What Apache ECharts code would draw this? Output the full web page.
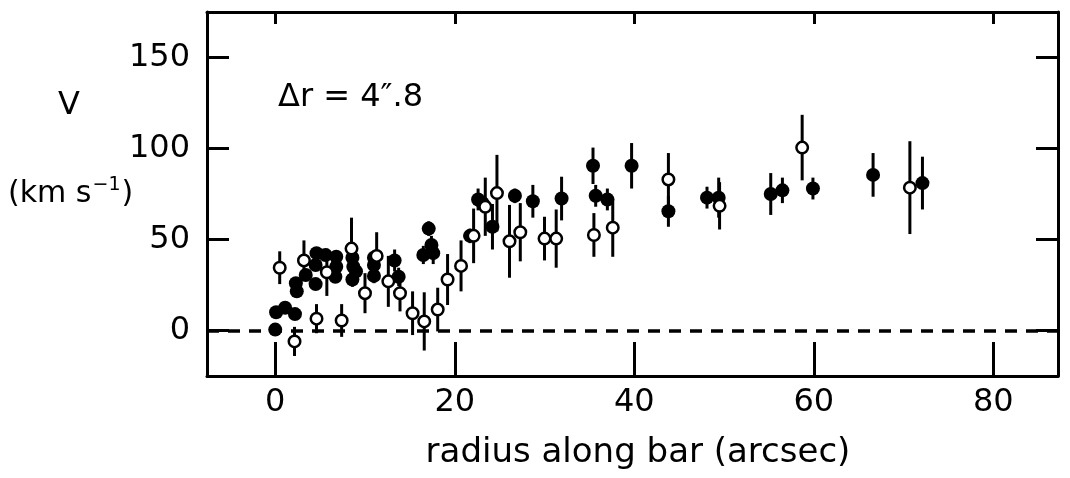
<!DOCTYPE html>
<html>
<head>
<meta charset="utf-8">
<script src="https://cdn.jsdelivr.net/npm/echarts@6/dist/echarts.min.js"></script>
<style>
  html, body { margin: 0; padding: 0; background: #fff; }
  #chart { width: 1070px; height: 478px; }
</style>
</head>
<body>
<div id="chart"></div>
<script>
// ---- data: [radius (arcsec), V (km/s), error (km/s)] ----
const filledPoints = [
  [0.0, 0.5, 0], [0.1, 10, 0], [1.1, 12.5, 0], [2.2, 9, 0],
  [2.3, 26, 3], [2.4, 21.5, 3], [3.4, 30.5, 3], [4.5, 25.5, 3],
  [4.5, 36, 3], [4.6, 42.5, 3], [5.6, 41.5, 3], [6.8, 40.5, 3],
  [6.8, 35, 3], [6.7, 29.5, 3], [8.6, 40, 4], [8.7, 35, 4],
  [9.0, 32.5, 4], [8.6, 28, 4], [11.0, 40, 4], [11.0, 36, 4],
  [11.0, 30, 4], [13.3, 38.5, 6], [13.75, 29.5, 5], [16.5, 41.5, 5],
  [17.1, 56, 4], [17.4, 47, 5], [17.6, 42.5, 6], [21.7, 52, 4],
  [22.6, 72, 6], [23.1, 70, 4], [24.2, 57, 12.5], [26.7, 74, 4],
  [28.7, 71, 9], [31.9, 72.5, 12], [35.4, 90.5, 10], [35.7, 74, 6],
  [37.0, 72, 6], [39.7, 90.5, 12.5], [43.8, 65.5, 8.5], [48.1, 73, 6],
  [49.4, 73, 11], [55.2, 75, 11.5], [56.5, 77, 7], [59.9, 78, 6],
  [66.6, 85.5, 12], [72.1, 81, 14.5]
];
const openPoints = [
  [0.5, 34.5, 9], [2.15, -6, 8], [3.2, 38.5, 11], [4.6, 6.5, 8],
  [5.75, 32, 13], [7.4, 5.5, 9], [8.5, 45, 17], [10.0, 20.5, 11],
  [11.3, 41, 13], [12.6, 27, 14], [13.9, 20.5, 10], [15.3, 9.5, 12],
  [16.6, 5, 16], [18.1, 11.5, 12], [19.2, 28, 14], [20.7, 35.5, 14],
  [22.1, 52, 15], [23.4, 68, 16], [24.7, 75.5, 21], [26.1, 49, 20],
  [27.3, 54, 16], [30.0, 50.5, 12], [31.3, 50.5, 16], [35.5, 52.5, 12],
  [37.6, 56.5, 16], [43.8, 83, 14.5], [49.5, 68.5, 13], [58.7, 100.5, 18],
  [70.7, 78.5, 25.5]
];
const xTicks = [0, 20, 40, 60, 80];
const yTicks = [0, 50, 100, 150];
const xRange = [-7.6, 87.2];
const yRange = [-25, 175];
const xTitle = 'radius along bar (arcsec)';
const annotation = 'Δr = 4\u2033.8';

const FONT = 'DejaVu Sans';
const lineW = 3;

const chart = echarts.init(document.getElementById('chart'));

function errRender(params, api) {
  const x = api.value(0), y = api.value(1), e = api.value(2);
  if (!e) return null;
  const p1 = api.coord([x, y - e]);
  const p2 = api.coord([x, y + e]);
  return {
    type: 'line',
    shape: { x1: p1[0], y1: p1[1], x2: p2[0], y2: p2[1] },
    style: { stroke: '#000', lineWidth: 3 }
  };
}

const axisCommon = {
  type: 'value',
  splitLine: { show: false },
  axisLine: { show: true, onZero: false, lineStyle: { color: '#000', width: lineW } },
};

const option = {
  animation: false,
  backgroundColor: '#fff',
  grid: { left: 207, right: 12, top: 12, bottom: 102, containLabel: false },
  xAxis: [
    Object.assign({}, axisCommon, {
      position: 'bottom', min: xRange[0], max: xRange[1],
      axisTick: { show: true, inside: true, length: 34, customValues: xTicks, lineStyle: { color: '#000', width: lineW } },
      axisLabel: { show: true, customValues: xTicks, color: '#000', fontFamily: FONT, fontSize: 32, margin: 11 }
    }),
    Object.assign({}, axisCommon, {
      position: 'top', min: xRange[0], max: xRange[1],
      axisTick: { show: true, inside: true, length: 12, customValues: xTicks, lineStyle: { color: '#000', width: lineW } },
      axisLabel: { show: false }
    })
  ],
  yAxis: [
    Object.assign({}, axisCommon, {
      position: 'left', min: yRange[0], max: yRange[1],
      axisTick: { show: true, inside: true, length: 22, customValues: yTicks, lineStyle: { color: '#000', width: lineW } },
      axisLabel: { show: true, customValues: yTicks, color: '#000', fontFamily: FONT, fontSize: 32, margin: 17 }
    }),
    Object.assign({}, axisCommon, {
      position: 'right', min: yRange[0], max: yRange[1],
      axisTick: { show: true, inside: true, length: 22, customValues: yTicks, lineStyle: { color: '#000', width: lineW } },
      axisLabel: { show: false }
    })
  ],
  graphic: [
    { type: 'text', left: 58, top: 90, style: { text: 'V', font: '32px "DejaVu Sans"', fill: '#000' } },
    { type: 'text', left: 8, top: 176, style: {
        text: '{a|(km s}{s|\u22121}{a|)}',
        rich: {
          a: { font: '30px "DejaVu Sans"', fill: '#000', verticalAlign: 'bottom' },
          s: { font: '19px "DejaVu Sans"', fill: '#000', verticalAlign: 'top', padding: [0, 1, 14, 1] }
        }
      } },
    { type: 'text', left: 278, top: 82, style: { text: annotation, font: '32px "DejaVu Sans"', fill: '#000' } },
    { type: 'text', x: 638, y: 453, style: { x: 0, y: 0, text: xTitle, font: '34px "DejaVu Sans"', fill: '#000', align: 'center', verticalAlign: 'middle' } }
  ],
  series: [
    {
      type: 'line', data: [], xAxisIndex: 0, yAxisIndex: 0,
      markLine: {
        silent: true, symbol: ['none', 'none'], label: { show: false },
        lineStyle: { color: '#000', width: 3.5, type: [12, 9] },
        data: [{ yAxis: 0 }]
      }
    },
    {
      name: 'errors-filled', type: 'custom', xAxisIndex: 0, yAxisIndex: 0,
      renderItem: errRender, data: filledPoints, z: 1
    },
    {
      name: 'errors-open', type: 'custom', xAxisIndex: 0, yAxisIndex: 0,
      renderItem: errRender, data: openPoints, z: 1
    },
    {
      name: 'filled', type: 'scatter', xAxisIndex: 0, yAxisIndex: 0,
      data: filledPoints.map(p => [p[0], p[1]]),
      symbol: 'circle', symbolSize: 14,
      itemStyle: { color: '#000', opacity: 1 }, z: 3
    },
    {
      name: 'open', type: 'scatter', xAxisIndex: 0, yAxisIndex: 0,
      data: openPoints.map(p => [p[0], p[1]]),
      symbol: 'circle', symbolSize: 11.5,
      itemStyle: { color: '#fff', borderColor: '#000', borderWidth: 2.5, opacity: 1 }, z: 4
    }
  ]
};
chart.setOption(option);
</script>
</body>
</html>
